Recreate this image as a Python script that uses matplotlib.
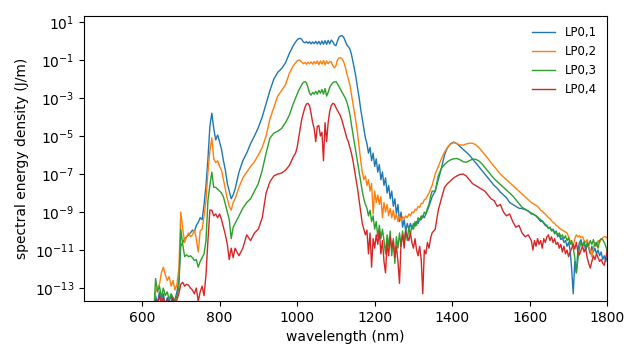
import numpy as np
import matplotlib
matplotlib.use("Agg")
import matplotlib.pyplot as plt
from matplotlib.ticker import NullLocator

# wavelength sampling grid (nm), finer where the spectra are noisy
wl = np.concatenate([
    np.arange(630, 841, 5),
    np.arange(850, 991, 10),
    np.arange(996, 1129, 4),
    np.arange(1132, 1349, 4),
    np.arange(1356, 1605, 8),
    np.arange(1608, 1801, 4),
])

labels = ["LP0,1", "LP0,2", "LP0,3", "LP0,4"]
ytick_vals = [1e1, 1e-1, 1e-3, 1e-5, 1e-7, 1e-9, 1e-11, 1e-13]

# log10 of spectral energy density (J/m)
lp01 = [
    -14.5, -13.4, -13.8, -13.2, -13.6, -13.3, -13.9, -13.5, -13.7, -13.4, -13.8, -13.6, -13.2, -12.6, -10.8,
    -10.6, -10.4, -10.3, -10.2, -10.1, -9.95, -10.05, -9.7, -9.55, -9.3, -9.4, -8.6, -7.6, -6.2, -4.5,
    -3.8, -4.6, -5.2, -4.95, -5.3, -5.7, -6.3, -6.8, -7.5, -7.9, -8.3, -8.1, -7.8,
    -6.9, -6.3, -5.9, -5.4, -5.0, -4.55, -4.0, -3.3, -2.6, -2.0, -1.65, -1.45, -1.15, -0.65, -0.25,
    -0.05, 0.05, 0.12, 0.14, 0.08, -0.05, -0.1, -0.03, -0.12, -0.04, -0.15, -0.05, -0.14, -0.02, -0.16,
    -0.02, -0.18, 0.0, -0.17, 0.02, -0.18, 0.03, -0.15, 0.05, -0.05, -0.2, -0.25, 0.0, 0.2, 0.27, 0.28,
    0.2, 0.0, -0.2,
    -0.3, -0.42, -0.7, -1.1, -1.5, -1.95, -2.5, -3.0, -3.6, -4.1, -4.6, -5.1, -5.4, -5.9, -5.6, -6.3,
    -5.9, -6.6, -6.2, -6.9, -6.5, -7.3, -6.9, -7.6, -7.2, -8.0, -7.6, -8.3, -7.9, -8.7, -8.3, -9.1,
    -8.6, -9.5, -9.0, -9.8, -9.4, -10.0, -9.6, -9.9, -9.6, -9.9, -9.6, -9.75, -9.5, -9.6, -9.35, -9.4,
    -9.2, -9.3, -9.1, -8.9, -8.7, -8.45, -8.2,
    -7.9, -7.3, -6.7, -6.0, -5.6, -5.4, -5.32, -5.4, -5.55, -5.7, -5.85, -6.0, -6.2, -6.4, -6.6, -6.8,
    -7.0, -7.2, -7.4, -7.6, -7.75, -7.95, -8.1, -8.25, -8.5, -8.6, -8.7, -8.8, -8.82, -8.87, -8.95, -9.1,
    -9.1, -9.15, -9.2, -9.3, -9.4, -9.5, -9.45, -9.6, -9.7, -9.75, -9.85, -9.8, -9.95, -9.9, -10.1,
    -10.0, -10.3, -10.2, -10.45, -10.35, -10.6, -10.5, -10.8, -10.6, -11.0, -12.0, -13.3, -11.6, -12.2,
    -11.0, -10.6, -10.45, -10.8, -10.6, -11.0, -10.7, -10.9, -11.2, -10.8, -11.1, -10.9, -11.2, -11.0,
    -11.3, -11.1, -11.5, -11.3, -11.6, -11.2,
]
lp02 = [
    -14.5, -13.2, -13.0, -12.8, -12.2, -11.9, -12.3, -12.6, -12.4, -12.9, -12.6, -13.1, -12.8, -12.0, -9.0,
    -9.9, -10.6, -10.3, -10.1, -10.3, -10.2, -9.95, -10.4, -11.1, -10.0, -9.9, -9.2, -8.4, -6.9, -5.8,
    -5.1, -6.2, -6.4, -6.3, -6.6, -6.8, -7.3, -7.8, -8.3, -8.7, -8.9, -8.5, -8.3,
    -7.7, -7.2, -6.9, -6.6, -6.35, -6.0, -5.6, -5.0, -4.1, -3.5, -2.9, -2.6, -2.3, -1.7, -1.3,
    -1.15, -1.05, -1.0, -1.02, -1.12, -1.2, -1.13, -1.22, -1.12, -1.2, -1.1, -1.22, -1.08, -1.2, -1.05,
    -1.25, -1.05, -1.22, -1.03, -1.25, -1.05, -1.2, -1.08, -1.1, -1.3, -1.42, -1.3, -1.0, -0.9, -0.88,
    -0.95, -1.1, -1.35, -1.7,
    -2.0, -2.3, -2.8, -3.3, -3.8, -4.3, -4.9, -5.6, -6.3, -6.9, -7.3, -7.1, -7.6, -7.3, -7.9, -7.5,
    -9.1, -7.9, -8.5, -8.1, -8.6, -8.2, -9.3, -8.5, -9.0, -8.6, -9.2, -8.8, -9.3, -8.9, -9.4, -9.1,
    -9.5, -9.2, -9.45, -9.25, -9.35, -9.2, -9.3, -9.1, -9.2, -9.0, -9.05, -8.85, -8.9, -8.7, -8.75, -8.55,
    -8.55, -8.35, -8.3, -8.15, -8.0, -7.8, -7.6,
    -7.0, -6.6, -6.2, -5.85, -5.6, -5.42, -5.35, -5.4, -5.47, -5.48, -5.42, -5.38, -5.38, -5.45, -5.6,
    -5.78, -5.98, -6.18, -6.4, -6.6, -6.8, -7.0, -7.15, -7.3, -7.45, -7.6, -7.75, -7.9, -8.05, -8.2,
    -8.35, -8.5,
    -8.55, -8.6, -8.65, -8.7, -8.8, -8.9, -8.95, -9.05, -9.1, -9.2, -9.3, -9.35, -9.45, -9.55, -9.6,
    -9.7, -9.75, -9.85, -9.9, -9.95, -10.0, -10.05, -10.1, -10.3, -10.5, -10.7, -10.8, -10.4, -10.2,
    -10.3, -10.25, -10.35, -10.3, -10.5, -10.6, -10.45, -10.8, -11.0, -11.35, -10.9, -10.6, -10.8,
    -10.5, -10.6, -10.45, -10.35, -10.3, -10.3, -10.4,
]
lp03 = [
    -14.5, -12.5, -13.2, -12.9, -13.5, -13.0, -13.4, -13.2, -13.6, -13.3, -13.5, -13.7, -13.4, -13.0, -9.9,
    -10.7, -11.35, -11.25, -11.35, -11.3, -11.4, -11.55, -11.5, -11.9, -11.6, -11.4, -11.2, -10.5, -8.4,
    -7.6, -6.9, -7.7, -7.7, -7.8, -7.9, -8.0, -8.2, -8.6, -9.0, -9.4, -10.4, -9.8, -9.6,
    -9.2, -8.8, -8.5, -8.3, -7.9, -7.5, -6.8, -5.9, -5.1, -4.85, -4.75, -4.6, -4.3, -3.9, -3.3,
    -3.0, -2.8, -2.6, -2.45, -2.3, -2.18, -2.14, -2.2, -2.45, -2.75, -2.85, -2.7, -2.8, -2.65, -2.8,
    -2.6, -2.75, -2.55, -2.8, -2.5, -2.9, -2.7, -2.45, -2.3, -2.2, -2.15, -2.14, -2.25, -2.4, -2.55,
    -2.7, -2.85, -3.0, -3.2,
    -3.5, -3.85, -4.4, -4.9, -5.4, -5.9, -6.4, -6.9, -7.4, -7.9, -8.3, -8.6, -8.8, -9.2, -8.9, -9.5,
    -9.2, -9.9, -9.5, -10.3, -9.7, -10.4, -9.9, -10.5, -11.2, -10.2, -10.8, -10.0, -11.3, -10.4, -11.7,
    -10.3, -10.9, -10.1, -10.8, -10.0, -10.6, -9.9, -10.5, -9.8, -10.2, -9.7, -9.9, -9.5, -9.7, -9.3,
    -9.45, -9.2, -9.3, -9.0, -9.1, -8.8, -8.6, -8.2, -7.9,
    -7.9, -7.1, -6.7, -6.5, -6.35, -6.25, -6.2, -6.18, -6.25, -6.35, -6.38, -6.3, -6.22, -6.22, -6.3,
    -6.45, -6.65, -6.85, -7.05, -7.25, -7.4, -7.55, -7.7, -7.85, -8.0, -8.15, -8.35, -8.55, -8.75,
    -8.85, -8.95, -9.05,
    -9.1, -9.15, -9.2, -9.25, -9.35, -9.4, -9.5, -9.55, -9.65, -9.7, -9.85, -9.8, -10.0, -9.95, -10.15,
    -10.05, -10.2, -10.1, -10.3, -10.2, -10.4, -10.25, -10.5, -10.35, -10.7, -10.5, -10.9, -11.4, -12.2,
    -11.5, -10.9, -10.6, -10.8, -10.55, -10.9, -10.6, -10.75, -10.5, -10.7, -10.45, -10.8, -10.6, -10.9,
    -10.5, -10.4, -10.45, -10.6, -10.8, -11.1,
]
lp04 = [
    -14.5, -13.6, -14.0, -13.4, -13.8, -13.5, -13.9, -13.6, -14.0, -13.7, -13.5, -14.0, -13.6, -13.3, -12.8,
    -12.7, -12.9, -12.8, -12.85, -13.0, -13.1, -13.3, -13.0, -13.7, -13.2, -12.9, -13.4, -12.3, -10.5,
    -8.9, -8.9, -9.2, -9.1, -9.3, -9.1, -9.4, -9.8, -10.2, -10.7, -11.5, -10.9, -11.4, -10.9,
    -11.3, -10.9, -10.2, -10.5, -10.1, -9.9, -9.3, -8.0, -7.4, -7.1, -7.0, -6.95, -6.8, -6.55, -6.1,
    -5.9, -5.6, -5.1, -4.6, -4.1, -3.8, -3.5, -3.32, -3.28, -3.4, -3.8, -4.3, -4.6, -5.3, -4.5,
    -4.45, -5.0, -4.8, -6.3, -4.3, -5.3, -4.3, -3.7, -3.4, -3.28, -3.32, -3.5, -3.65, -3.8, -3.95,
    -4.2, -4.5, -4.8, -5.1,
    -5.3, -5.6, -5.9, -6.3, -6.8, -7.3, -7.8, -8.4, -9.0, -9.6, -9.9, -10.2, -9.95, -11.2, -10.1, -11.9,
    -10.4, -10.9, -10.2, -10.7, -10.0, -11.2, -10.5, -11.6, -12.2, -10.6, -11.3, -10.3, -10.9, -10.5,
    -11.4, -10.8, -11.6, -12.75, -10.6, -10.2, -10.9, -10.0, -10.3, -10.5, -10.1, -10.6, -10.9, -10.4,
    -11.0, -11.3, -10.8, -11.5, -13.3, -11.0, -11.2, -10.6, -10.9, -10.4, -10.1,
    -9.9, -8.9, -8.3, -7.7, -7.5, -7.35, -7.2, -7.1, -7.02, -7.0, -7.1, -7.3, -7.5, -7.6, -7.7, -7.8,
    -7.9, -8.1, -8.3, -8.4, -8.7, -8.6, -9.0, -9.2, -9.1, -9.5, -9.8, -9.7, -10.1, -10.3, -10.2, -10.5,
    -11.0, -10.5, -10.8, -10.4, -10.7, -10.5, -10.9, -10.4, -10.6, -10.3, -10.2, -10.5, -10.3, -10.6,
    -10.4, -10.7, -10.6, -10.9, -10.7, -11.1, -10.8, -11.2, -11.0, -11.35, -11.1, -10.9, -10.7, -10.95,
    -10.6, -11.1, -11.25, -11.0, -10.8, -11.1, -10.9, -11.4, -11.7, -11.95, -11.6, -11.3, -11.5, -11.2,
    -11.4, -11.6, -11.5, -11.7, -11.8, -11.4, -11.0,
]

series = [lp01, lp02, lp03, lp04]

fig, ax = plt.subplots(figsize=(6.4, 3.6), dpi=100)
fig.subplots_adjust(left=0.131, right=0.949, bottom=0.164, top=0.956)

for lab, s in zip(labels, series):
    ax.semilogy(wl, 10.0 ** np.array(s), lw=1.0, label=lab)

ax.set_xlim(450, 1800)
ax.set_ylim(2.1e-14, 21)
ax.set_yticks(ytick_vals)
ax.yaxis.set_minor_locator(NullLocator())
ax.set_xlabel("wavelength (nm)")
ax.set_ylabel("spectral energy density (J/m)")
ax.legend(loc="upper right", frameon=False, fontsize=8.5)

fig.savefig("out.png")
